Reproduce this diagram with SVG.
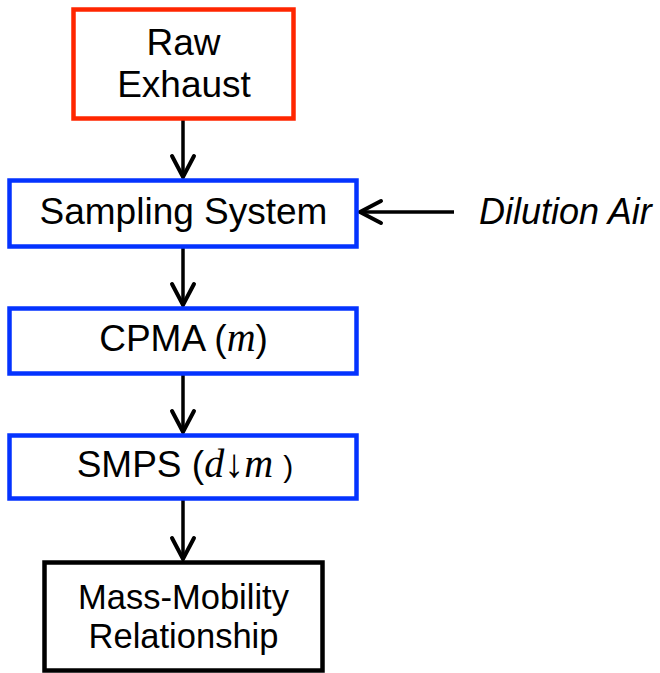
<svg xmlns="http://www.w3.org/2000/svg" width="660" height="673" viewBox="0 0 660 673">
<style>
.box{fill:#fff;stroke-width:4.5}
.red{stroke:#ff2600}
.blue{stroke:#0433ff}
.black{stroke:#000}
.t{font-family:"Liberation Sans",Arial,sans-serif;font-size:37px;fill:#000;text-anchor:middle}
.s{font-size:34.5px}
.i{font-style:italic;text-anchor:start;font-size:36px}
.m{font-family:"Liberation Serif","Times New Roman",serif;font-style:italic;font-size:40px}
.c{stroke:#000;stroke-width:3.5;fill:none}
</style>
<defs>
<marker id="ah" markerUnits="userSpaceOnUse" markerWidth="40" markerHeight="40" viewBox="-30 -20 40 40" refX="0" refY="0" orient="auto">
<path d="M-21,-11 L0,0 L-21,11" fill="none" stroke="#000" stroke-width="4" stroke-linecap="round" stroke-linejoin="miter"/>
</marker>
</defs>
<rect width="660" height="673" fill="#fff"/>
<g id="connectors">
<line class="c" x1="183" y1="120" x2="183" y2="177" marker-end="url(#ah)"/>
<line class="c" x1="183" y1="248" x2="183" y2="305" marker-end="url(#ah)"/>
<line class="c" x1="183" y1="375" x2="183" y2="432" marker-end="url(#ah)"/>
<line class="c" x1="183" y1="500" x2="183" y2="559" marker-end="url(#ah)"/>
<line class="c" x1="454" y1="212" x2="360" y2="212" marker-end="url(#ah)"/>
</g>
<g id="raw-exhaust">
<rect class="box red" x="73.5" y="9.5" width="220" height="109"/>
<text class="t" x="183.5" y="55">Raw</text>
<text class="t" x="184" y="97">Exhaust</text>
</g>
<g id="sampling-system">
<rect class="box blue" x="9.5" y="180.5" width="347" height="66"/>
<text class="t" x="183.5" y="224">Sampling System</text>
</g>
<g id="dilution-air">
<text class="t i" x="479" y="224">Dilution Air</text>
</g>
<g id="cpma">
<rect class="box blue" x="9.5" y="308.5" width="347" height="65"/>
<text class="t" x="183.5" y="351">CPMA (<tspan class="m">m</tspan>)</text>
</g>
<g id="smps">
<rect class="box blue" x="9.5" y="435.5" width="347" height="63"/>
<text class="t" x="185" y="477">SMPS (<tspan class="m">d↓m</tspan> <tspan font-size="30">)</tspan></text>
</g>
<g id="mass-mobility">
<rect class="box black" x="44.5" y="562.5" width="278" height="108"/>
<text class="t s" x="183.5" y="609">Mass-Mobility</text>
<text class="t s" x="183.5" y="648">Relationship</text>
</g>
</svg>
